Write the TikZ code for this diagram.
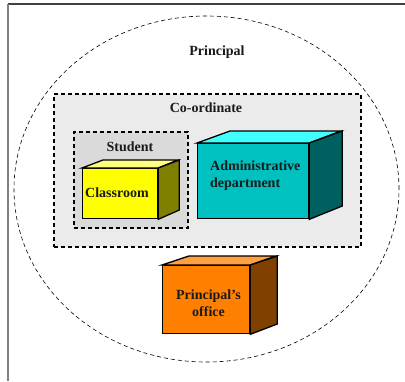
\documentclass[tikz,border=0pt]{standalone}
\usepackage{fontspec}
\usetikzlibrary{shapes.geometric}
\setmainfont{Liberation Serif}
\definecolor{frameA}{HTML}{404040}
\definecolor{frameB}{HTML}{808080}
\definecolor{coordfill}{HTML}{EBEBEB}
\definecolor{studfill}{HTML}{DADADA}
\definecolor{yelF}{HTML}{FFFF00}
\definecolor{yelT}{HTML}{FFFF80}
\definecolor{yelS}{HTML}{808000}
\definecolor{tealF}{HTML}{00C0C0}
\definecolor{tealT}{HTML}{40FFFF}
\definecolor{tealS}{HTML}{006060}
\definecolor{orF}{HTML}{FF8000}
\definecolor{orT}{HTML}{FFA040}
\definecolor{orS}{HTML}{804000}
\definecolor{txt}{HTML}{1A1A1A}
\tikzset{
  lbl/.style={font=\fontsize{14}{17}\selectfont\bfseries, text=txt, inner sep=0pt, align=center},
  facebox/.style={draw=black, line width=1.3pt, anchor=north west, inner sep=0pt},
  facepoly/.style={draw=black, line width=1.3pt, line join=miter},
  groupbox/.style={draw=black, line width=1.6pt, dash pattern=on 4pt off 3pt, anchor=north west, inner sep=0pt},
}
\begin{document}
\begin{tikzpicture}[x=1pt,y=-1pt]
\useasboundingbox (0,0) rectangle (405,381);
% frame
\draw[frameA, line width=1.2pt] (8,4) -- (405,4);
\draw[frameB, line width=2pt] (8,4) -- (8,381);
% ellipse
\node[draw=black, line width=0.6pt, dash pattern=on 4pt off 3pt, ellipse, minimum width=385pt, minimum height=346pt, inner sep=0pt] (outer) at (206.5,189) {};
\node[lbl] (prin) at (217,52) {Principal};
% co-ordinate group
\node[groupbox, fill=coordfill, minimum width=307pt, minimum height=153pt] (coord) at (53,93) {};
\node[lbl] (coordl) at (206,108) {Co-ordinate};
% student group
\node[groupbox, fill=studfill, minimum width=114pt, minimum height=96pt] (stud) at (73,131) {};
\node[lbl] (studl) at (130,147) {Student};
% classroom cube
\node[facebox, fill=yelF, minimum width=75pt, minimum height=50pt] (cls) at (82,168) {};
\draw[facepoly, fill=yelT] (cls.north west) -- ++(21,-8) -- ++(75,0) -- (cls.north east) -- cycle;
\draw[facepoly, fill=yelS] (cls.north east) -- ++(21,-8) -- ++(0,50) -- (cls.south east) -- cycle;
\node[lbl] (clsl) at (117,193) {Classroom};
% admin cube
\node[facebox, fill=tealF, minimum width=111pt, minimum height=75pt] (adm) at (197,143) {};
\draw[facepoly, fill=tealT] (adm.north west) -- ++(33,-12) -- ++(111,0) -- (adm.north east) -- cycle;
\draw[facepoly, fill=tealS] (adm.north east) -- ++(33,-12) -- ++(0,75) -- (adm.south east) -- cycle;
\node[lbl, align=left, anchor=west] (adml) at (210,175.5) {Administrative\\department};
% principal's office cube
\node[facebox, fill=orF, minimum width=87pt, minimum height=68pt] (off) at (162,265) {};
\draw[facepoly, fill=orT] (off.north west) -- ++(27,-9) -- ++(87,0) -- (off.north east) -- cycle;
\draw[facepoly, fill=orS] (off.north east) -- ++(27,-9) -- ++(0,68) -- (off.south east) -- cycle;
\node[lbl] (offl) at (208.5,303.5) {Principal’s\\office};
\end{tikzpicture}
\end{document}
